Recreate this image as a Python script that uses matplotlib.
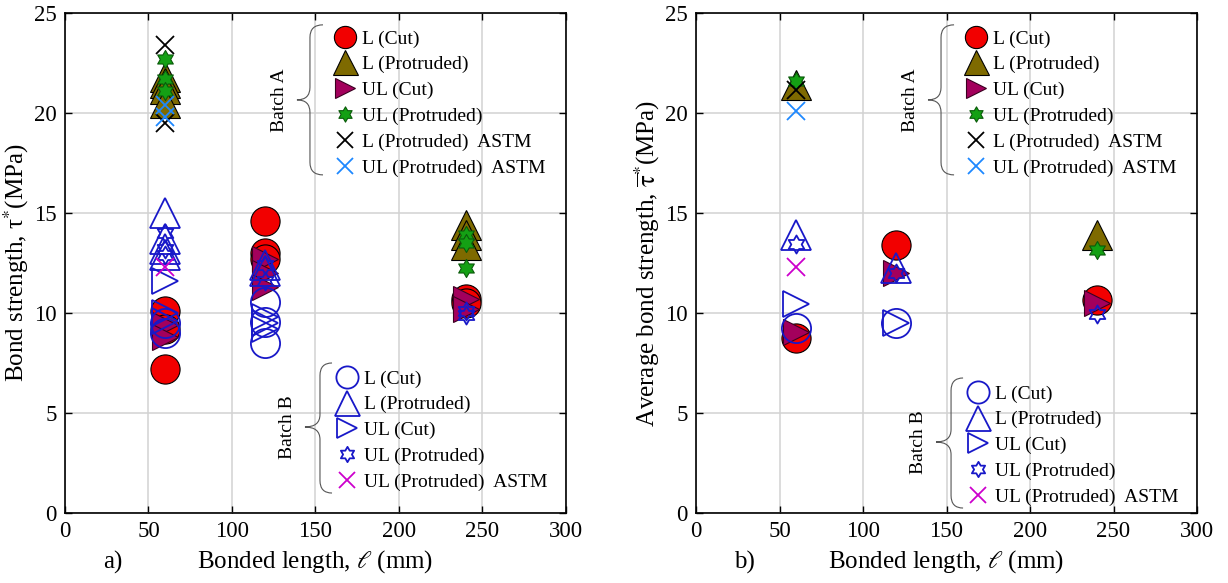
import numpy as np
import matplotlib
matplotlib.use('Agg')
import matplotlib.pyplot as plt
from matplotlib.path import Path
from matplotlib.patches import PathPatch
from matplotlib.lines import Line2D

plt.rcParams['font.family'] = ['Liberation Serif', 'DejaVu Serif']
plt.rcParams['mathtext.fontset'] = 'stix'

# ---- a) individual specimens ----
# batch A
a_lcut_x = [60, 60, 60, 120, 120, 120, 240, 240]
a_lcut_y = [10.1, 9.2, 7.2, 14.6, 13.0, 12.7, 10.7, 10.5]
a_lprot_x = [60, 60, 60, 60, 240, 240, 240]
a_lprot_y = [21.8, 21.5, 21.2, 20.5, 14.4, 13.9, 13.4]
a_ulcut_x = [60, 60, 120, 120, 120, 240, 240]
a_ulcut_y = [9.4, 8.8, 12.7, 12.0, 11.3, 10.7, 10.2]
a_ulprot_x = [60, 60, 60, 240, 240, 240]
a_ulprot_y = [22.7, 21.7, 21.1, 13.9, 13.5, 12.25]
a_lastm_x = [60, 60]
a_lastm_y = [23.4, 19.5]
a_ulastm_x = [60, 60]
a_ulastm_y = [20.4, 19.8]
# batch B
b_lcut_x = [60, 60, 120, 120, 120]
b_lcut_y = [9.5, 9.0, 10.55, 9.55, 8.5]
b_lprot_x = [60, 60, 60, 60, 120, 120]
b_lprot_y = [15.0, 13.7, 13.2, 12.9, 12.4, 12.1]
b_ulcut_x = [60, 60, 60, 120, 120, 120]
b_ulcut_y = [11.6, 10.0, 9.6, 9.8, 9.5, 9.2]
b_ulprot_x = [60, 60, 60, 120, 120, 240, 240]
b_ulprot_y = [14.0, 13.2, 12.9, 12.4, 11.6, 10.1, 9.9]
b_ulastm_x = [60]
b_ulastm_y = [12.3]

# ---- b) averages ----
avg_a_lcut_x = [60, 120, 240]
avg_a_lcut_y = [8.75, 13.4, 10.65]
avg_a_lprot_x = [60, 240]
avg_a_lprot_y = [21.4, 13.9]
avg_a_ulcut_x = [60, 120, 240]
avg_a_ulcut_y = [9.05, 12.0, 10.5]
avg_a_ulprot_x = [60, 240]
avg_a_ulprot_y = [21.6, 13.15]
avg_a_lastm_x = [60]
avg_a_lastm_y = [21.15]
avg_a_ulastm_x = [60]
avg_a_ulastm_y = [20.1]
avg_b_lcut_x = [60, 120]
avg_b_lcut_y = [9.25, 9.5]
avg_b_lprot_x = [60, 120]
avg_b_lprot_y = [13.9, 12.25]
avg_b_ulcut_x = [60, 120]
avg_b_ulcut_y = [10.45, 9.5]
avg_b_ulprot_x = [60, 120, 240]
avg_b_ulprot_y = [13.45, 12.0, 9.95]
avg_b_ulastm_x = [60]
avg_b_ulastm_y = [12.3]

labels_a = ['L (Cut)', 'L (Protruded)', 'UL (Cut)', 'UL (Protruded)',
            'L (Protruded)  ASTM', 'UL (Protruded)  ASTM']
labels_b = ['L (Cut)', 'L (Protruded)', 'UL (Cut)', 'UL (Protruded)',
            'UL (Protruded)  ASTM']

# six pointed star marker
hexagram = Path.unit_regular_star(6, 0.577)

red = '#F20000'
olive = '#7E6A00'
maroon = '#A3005C'
green = '#14A014'
blue = '#1818C8'
magenta = '#CC00CC'
lblue = '#1E88FF'

# marker style per series: (marker, face, edge, size, edge width)
sty_a = [('o', red, 'k', 21, 0.8),
         ('^', olive, 'k', 21, 0.8),
         ('>', maroon, '#3a0020', 19, 0.8),
         (hexagram, green, '#0a5a0a', 13, 0.8),
         ('x', 'k', 'k', 13, 1.3),
         ('x', lblue, lblue, 13, 1.3)]
sty_b = [('o', 'none', blue, 21, 1.3),
         ('^', 'none', blue, 21, 1.3),
         ('>', 'none', blue, 19, 1.3),
         (hexagram, 'none', blue, 13, 1.3),
         ('x', magenta, magenta, 13, 1.3)]
leg_size = [16, 18, 15, 11, 11, 11]


def plot_series(ax, xs, ys, st):
    m, fc, ec, ms, mew = st
    ax.plot(xs, ys, linestyle='none', marker=m, markerfacecolor=fc,
            markeredgecolor=ec, markersize=ms, markeredgewidth=mew)


def handles(styles):
    hs = []
    for (m, fc, ec, ms, mew), s in zip(styles, leg_size):
        hs.append(Line2D([], [], linestyle='none', marker=m, markerfacecolor=fc,
                         markeredgecolor=ec, markersize=s, markeredgewidth=mew))
    return hs


def brace(ax, x_tip, x_sp, x_mid, y_top, y_mid, y_bot, r=0.025):
    verts = [(x_tip, y_top), (x_sp, y_top), (x_sp, y_top - r),
             (x_sp, y_mid + r), (x_sp, y_mid), (x_mid, y_mid),
             (x_sp, y_mid), (x_sp, y_mid - r),
             (x_sp, y_bot + r), (x_sp, y_bot), (x_tip, y_bot)]
    codes = [Path.MOVETO, Path.CURVE3, Path.CURVE3,
             Path.LINETO, Path.CURVE3, Path.CURVE3,
             Path.CURVE3, Path.CURVE3,
             Path.LINETO, Path.CURVE3, Path.CURVE3]
    ax.add_patch(PathPatch(Path(verts, codes), transform=ax.transAxes,
                           facecolor='none', edgecolor='#555555', lw=0.8,
                           clip_on=False))


def setup(ax, ylabel, tag):
    ax.set_xlim(0, 300)
    ax.set_ylim(0, 25)
    ax.set_xticks(np.arange(0, 301, 50))
    ax.set_yticks(np.arange(0, 26, 5))
    ax.grid(True, color='#d2d2d2', lw=1.1)
    ax.set_axisbelow(True)
    ax.tick_params(direction='in', top=True, right=True, length=5, width=1,
                   labelsize=16.5, pad=6)
    for s in ax.spines.values():
        s.set_linewidth(1.2)
    ax.set_xlabel(r'Bonded length, $\ell$ (mm)', fontsize=18, labelpad=4)
    ax.set_ylabel(ylabel, fontsize=18, labelpad=2)
    ax.text(0.096, -0.098, tag, transform=ax.transAxes, fontsize=18,
            ha='center', va='center')


fig = plt.figure(figsize=(12.28, 5.83), dpi=100)
ax1 = fig.add_axes([0.0529, 0.120, 0.408, 0.858])
ax2 = fig.add_axes([0.5668, 0.120, 0.408, 0.858])

series_a1 = [(a_lcut_x, a_lcut_y), (a_lprot_x, a_lprot_y), (a_ulcut_x, a_ulcut_y),
             (a_ulprot_x, a_ulprot_y), (a_lastm_x, a_lastm_y), (a_ulastm_x, a_ulastm_y)]
series_b1 = [(b_lcut_x, b_lcut_y), (b_lprot_x, b_lprot_y), (b_ulcut_x, b_ulcut_y),
             (b_ulprot_x, b_ulprot_y), (b_ulastm_x, b_ulastm_y)]
series_a2 = [(avg_a_lcut_x, avg_a_lcut_y), (avg_a_lprot_x, avg_a_lprot_y),
             (avg_a_ulcut_x, avg_a_ulcut_y), (avg_a_ulprot_x, avg_a_ulprot_y),
             (avg_a_lastm_x, avg_a_lastm_y), (avg_a_ulastm_x, avg_a_ulastm_y)]
series_b2 = [(avg_b_lcut_x, avg_b_lcut_y), (avg_b_lprot_x, avg_b_lprot_y),
             (avg_b_ulcut_x, avg_b_ulcut_y), (avg_b_ulprot_x, avg_b_ulprot_y),
             (avg_b_ulastm_x, avg_b_ulastm_y)]

for ax, sa, sb, yl, tag, yb in [
        (ax1, series_a1, series_b1, r'Bond strength, τ$^{*}$(MPa)', 'a)', 0.0),
        (ax2, series_a2, series_b2, r'Average bond strength, $\overline{\mathrm{\tau}}^{*}$(MPa)', 'b)', -0.03)]:
    setup(ax, yl, tag)
    for (xs, ys), st in zip(sa, sty_a):
        plot_series(ax, xs, ys, st)
    for (xs, ys), st in zip(sb, sty_b):
        plot_series(ax, xs, ys, st)

    leg_a = ax.legend(handles(sty_a), labels_a, loc='upper left',
                      bbox_to_anchor=(0.539, 0.966), frameon=False, fontsize=14,
                      borderpad=0, borderaxespad=0, handlelength=1.0,
                      handletextpad=0.4, labelspacing=0.42)
    ax.add_artist(leg_a)
    ax.legend(handles(sty_b), labels_b, loc='upper left',
              bbox_to_anchor=(0.543, 0.286 + yb), frameon=False, fontsize=14,
              borderpad=0, borderaxespad=0, handlelength=1.0,
              handletextpad=0.4, labelspacing=0.42)

    brace(ax, 0.515, 0.489, 0.463, 0.976, 0.826, 0.676)
    ax.text(0.429, 0.826, 'Batch A', transform=ax.transAxes, rotation=90,
            fontsize=14, ha='center', va='center')
    brace(ax, 0.533, 0.509, 0.479, 0.30 + yb, 0.172 + yb, 0.04 + yb)
    ax.text(0.445, 0.172 + yb, 'Batch B', transform=ax.transAxes, rotation=90,
            fontsize=14, ha='center', va='center')

fig.savefig('out.png', dpi=100)
